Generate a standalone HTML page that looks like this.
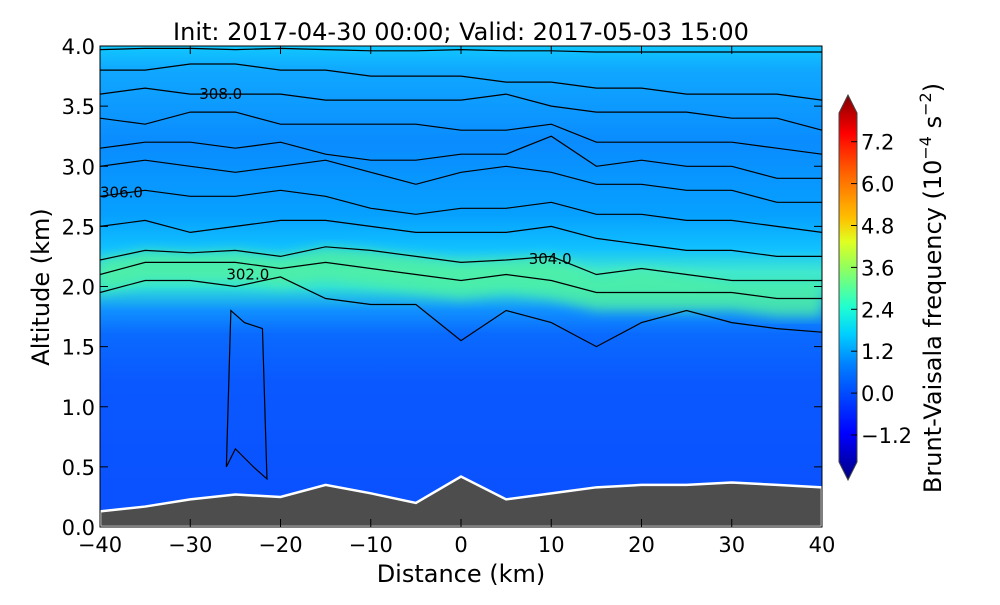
<!DOCTYPE html>
<html><head><meta charset="utf-8"><style>
body{margin:0;background:#fff;width:1000px;height:600px;overflow:hidden}
svg{font-family:"DejaVu Sans","Liberation Sans",sans-serif}
</style></head><body>
<svg id="chart" width="1000" height="600">
<defs>
<linearGradient id="bg" x1="0" y1="0" x2="0" y2="1">
<stop offset="0" stop-color="#10c8ff"/>
<stop offset="0.05" stop-color="#10a8ff"/>
<stop offset="0.2" stop-color="#0a8cff"/>
<stop offset="0.35" stop-color="#06a0ff"/>
<stop offset="0.42" stop-color="#10c0ff"/>
<stop offset="0.47" stop-color="#40e8d0"/>
<stop offset="0.5" stop-color="#30e0d8"/>
<stop offset="0.55" stop-color="#1090ff"/>
<stop offset="0.6" stop-color="#0a6aff"/>
<stop offset="0.7" stop-color="#0a58ff"/>
<stop offset="1" stop-color="#0a50ff"/>
</linearGradient>
<linearGradient id="jet" x1="0" y1="1" x2="0" y2="0">
<stop offset="0" stop-color="#00007f"/>
<stop offset="0.12" stop-color="#0000ff"/>
<stop offset="0.3" stop-color="#0080ff"/>
<stop offset="0.38" stop-color="#00d0ff"/>
<stop offset="0.45" stop-color="#20ffd0"/>
<stop offset="0.55" stop-color="#90ff60"/>
<stop offset="0.62" stop-color="#e0ff20"/>
<stop offset="0.68" stop-color="#ffc000"/>
<stop offset="0.8" stop-color="#ff6000"/>
<stop offset="0.9" stop-color="#ff0000"/>
<stop offset="1" stop-color="#800000"/>
</linearGradient>
<filter id="blur"><feGaussianBlur stdDeviation="6"/></filter>
<clipPath id="clip"><rect x="100" y="46" width="722" height="481"/></clipPath>
</defs>
<g clip-path="url(#clip)">
<rect x="100" y="46" width="722" height="481" fill="url(#bg)"/>
<g id="bands" filter="url(#blur)"></g>
<g id="contours"></g>
<path id="terrain" fill="#4d4d4d" stroke="#fff" stroke-width="2.5"/>
</g>
<rect x="100" y="46" width="722" height="481" fill="none" stroke="#000" stroke-width="1"/>
<g id="axes" font-size="21"></g>
<text x="461" y="40" font-size="24" text-anchor="middle">Init: 2017-04-30 00:00; Valid: 2017-05-03 15:00</text>
<text x="461" y="582" font-size="24" text-anchor="middle">Distance (km)</text>
<text transform="translate(49,287) rotate(-90)" font-size="24" text-anchor="middle">Altitude (km)</text>
<g>
<polygon points="839,113 848,95 857,113 857,462 848,480 839,462" fill="url(#jet)" stroke="#444" stroke-width="1"/>
</g>
<g id="cbticks" font-size="21"></g>
<text transform="translate(941,288) rotate(-90)" font-size="24" text-anchor="middle">Brunt-Vaisala frequency (10<tspan dy="-10" font-size="16">−4</tspan><tspan dy="10"> s</tspan><tspan dy="-10" font-size="16">−2</tspan><tspan dy="10">)</tspan></text>
</svg>
<script>
const distances=[-40,-35,-30,-25,-20,-15,-10,-5,0,5,10,15,20,25,30,35,40];
const terrainHeights=[0.13,0.17,0.23,0.27,0.25,0.35,0.28,0.2,0.42,0.23,0.28,0.33,0.35,0.35,0.37,0.35,0.33];
const thetaLines=[
[1.95,2.05,2.05,2.0,2.08,1.9,1.85,1.85,1.55,1.8,1.7,1.5,1.7,1.8,1.7,1.65,1.62],
[2.1,2.2,2.2,2.2,2.15,2.2,2.15,2.1,2.05,2.1,2.05,1.95,1.95,1.95,1.95,1.9,1.9],
[2.22,2.3,2.28,2.3,2.25,2.33,2.3,2.25,2.2,2.22,2.25,2.1,2.15,2.1,2.05,2.05,2.05],
[2.5,2.55,2.45,2.5,2.55,2.55,2.5,2.45,2.45,2.45,2.5,2.4,2.35,2.3,2.3,2.25,2.25],
[2.75,2.8,2.75,2.75,2.8,2.75,2.65,2.6,2.65,2.65,2.7,2.6,2.6,2.55,2.55,2.5,2.45],
[3.0,3.05,3.0,2.95,3.0,3.05,2.95,2.85,2.95,3.0,2.95,2.85,2.85,2.8,2.8,2.7,2.7],
[3.15,3.2,3.2,3.15,3.2,3.1,3.05,3.05,3.1,3.1,3.25,3.0,3.05,3.0,3.0,2.9,2.9],
[3.4,3.35,3.45,3.45,3.35,3.35,3.35,3.35,3.3,3.3,3.35,3.2,3.2,3.2,3.2,3.15,3.1],
[3.6,3.65,3.6,3.6,3.6,3.55,3.55,3.55,3.55,3.6,3.5,3.45,3.45,3.45,3.4,3.4,3.3],
[3.8,3.8,3.85,3.85,3.8,3.8,3.75,3.75,3.75,3.7,3.7,3.65,3.65,3.6,3.6,3.6,3.55],
[3.97,3.98,3.98,3.97,3.98,3.97,3.96,3.96,3.97,3.96,3.96,3.95,3.95,3.95,3.95,3.95,3.95]];
const contourLabels=["302.0","304.0","306.0","308.0"];
const labelPos=[[-26,2.1],[7.5,2.23],[-40,2.78],[-29,3.6]];
const xTicks=[-40,-30,-20,-10,0,10,20,30,40];
const yTicks=[0,0.5,1,1.5,2,2.5,3,3.5,4];
const cbTicks=[-1.2,0,1.2,2.4,3.6,4.8,6.0,7.2];
const NS="http://www.w3.org/2000/svg";
const X=d=>100+(d+40)/80*722, Y=a=>527-a/4*481, CB=v=>435-(v+1.2)/1.2*41.9;
function mk(t,p,a){const e=document.createElementNS(NS,t);for(const k in a)e.setAttribute(k,a[k]);p.appendChild(e);return e;}
function line(vals){return vals.map((v,i)=>(i?'L':'M')+X(distances[i]).toFixed(1)+','+Y(v).toFixed(1)).join('');}
const bands=document.getElementById('bands');
let bp=line(thetaLines[2]);
for(let i=distances.length-1;i>=0;i--)bp+='L'+X(distances[i])+','+Y(thetaLines[1][i]-0.15);
const band=mk('path',bands,{d:bp+'Z',fill:'#50f0a0',opacity:0.8});


const cg=document.getElementById('contours');
thetaLines.forEach((l,i)=>{const p=mk('path',cg,{d:line(l),fill:'none',stroke:'#000','stroke-width':1.2});

});
const loop=mk('path',cg,{d:`M${X(-26)},${Y(0.5)}L${X(-25.5)},${Y(1.8)}L${X(-24)},${Y(1.7)}L${X(-22)},${Y(1.65)}L${X(-21.5)},${Y(0.4)}L${X(-23)},${Y(0.5)}L${X(-25)},${Y(0.65)}Z`,fill:'none',stroke:'#000','stroke-width':1.2});


contourLabels.forEach((t,i)=>{const e=mk('text',cg,{x:X(labelPos[i][0]),y:Y(labelPos[i][1])+5,'font-size':15});e.textContent=t;

});
let tp='M'+X(-40)+','+Y(0);distances.forEach((d,i)=>tp+='L'+X(d)+','+Y(terrainHeights[i]));tp+='L'+X(40)+','+Y(0)+'Z';
document.getElementById('terrain').setAttribute('d',tp);
const ag=document.getElementById('axes');
xTicks.forEach(t=>{mk('line',ag,{x1:X(t),x2:X(t),y1:527,y2:519,stroke:'#000'});mk('line',ag,{x1:X(t),x2:X(t),y1:46,y2:54,stroke:'#000'});
const e=mk('text',ag,{x:X(t),y:552,'text-anchor':'middle'});e.textContent=t<0?'−'+(-t):t;

});
yTicks.forEach(t=>{mk('line',ag,{x1:100,x2:108,y1:Y(t),y2:Y(t),stroke:'#000'});mk('line',ag,{x1:822,x2:814,y1:Y(t),y2:Y(t),stroke:'#000'});
const e=mk('text',ag,{x:95,y:Y(t)+8,'text-anchor':'end'});e.textContent=t.toFixed(1);

});
const cbg=document.getElementById('cbticks');
cbTicks.forEach(v=>{mk('line',cbg,{x1:851,x2:857,y1:CB(v),y2:CB(v),stroke:'#000'});
const e=mk('text',cbg,{x:861,y:CB(v)+8});e.textContent=v<0?'−'+(-v).toFixed(1):v.toFixed(1);

});
</script>
</body></html>
